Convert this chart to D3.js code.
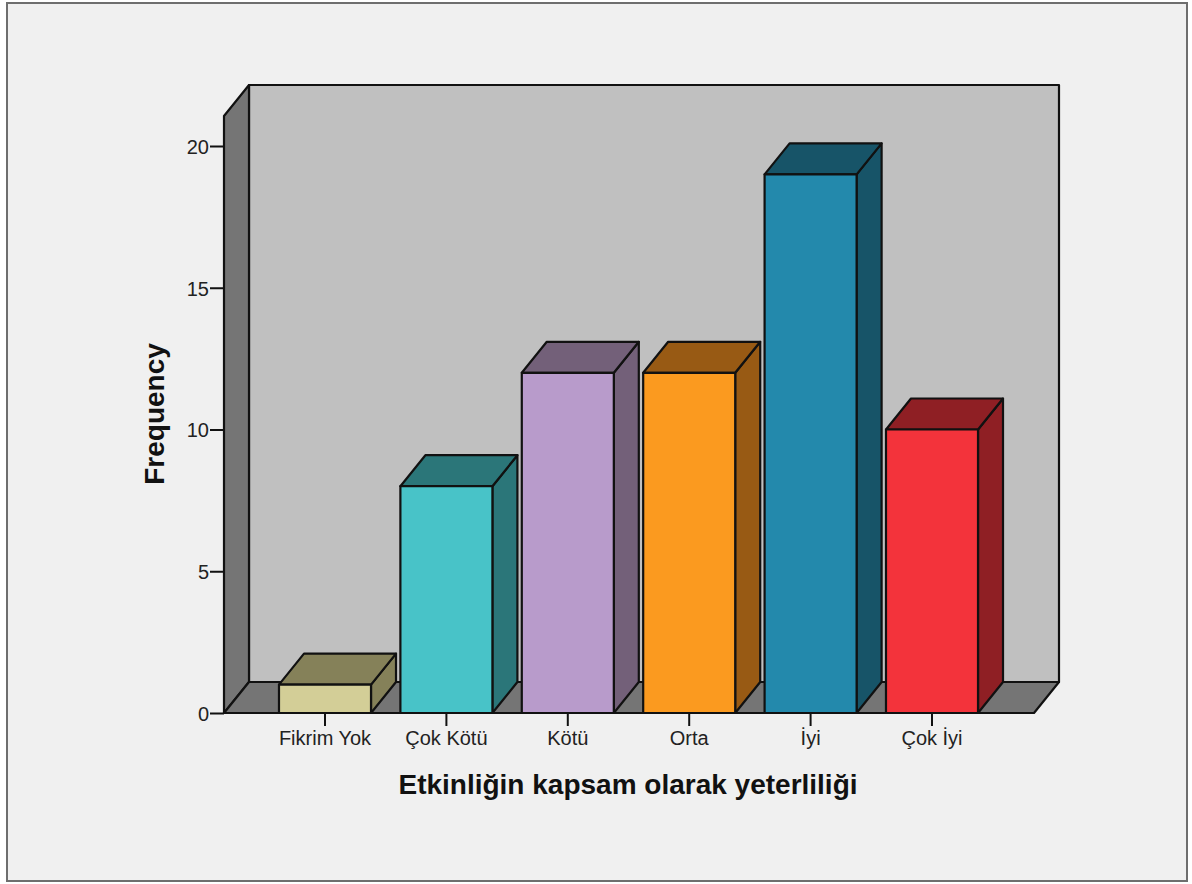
<!DOCTYPE html>
<html><head><meta charset="utf-8">
<script src="https://cdn.jsdelivr.net/npm/d3@7"></script>
<style>html,body{margin:0;padding:0;background:#fff}svg{display:block}text{font-family:"Liberation Sans",Arial,sans-serif}</style>
</head><body><script>
const categories = ["Fikrim Yok","Çok Kötü","Kötü","Orta","İyi","Çok İyi"];
const frequencies = [1,8,12,12,19,10];
const frontColors = ["#d3ce97","#48c3c8","#b89bcb","#fb9a1f","#2389ac","#f3333b"];
const sideColors = ["#858159","#2b7679","#736079","#985a14","#175468","#8f1f24"];
const topColors = ["#858159","#2b7679","#736079","#985a14","#175468","#8f1f24"];
const yTicks = [0,5,10,15,20];
const xTitle = "Etkinliğin kapsam olarak yeterliliği";
const yTitle = "Frequency";

const W=1192,H=884, dx=25, dy=-31;
const svg=d3.select("body").append("svg").attr("width",W).attr("height",H);
const y=d3.scaleLinear().domain([0,20]).range([713,146]);
const x=d3.scaleBand().domain(categories).range([264.3,992.7]).paddingInner(.242).paddingOuter(.121);
const wallL=224, wallR=1034, yTop=y(20)-30;
const line=d3.line();
function poly(pts,fill,sw){
  return svg.append("path").attr("d",line(pts)+"Z").attr("fill",fill)
    .attr("stroke","#111").attr("stroke-width",sw||2.2).attr("stroke-linejoin","round");
}
svg.append("rect").attr("x",7).attr("y",3).attr("width",1180).attr("height",878)
  .attr("fill","#f0f0f0").attr("stroke","#6e6e6e").attr("stroke-width",2);
poly([[wallL+dx,y(0)+dy],[wallR+dx,y(0)+dy],[wallR+dx,yTop+dy],[wallL+dx,yTop+dy]],"#c0c0c0");
poly([[wallL,y(0)],[wallL+dx,y(0)+dy],[wallL+dx,yTop+dy],[wallL,yTop]],"#757575");
poly([[wallL,y(0)],[wallR,y(0)],[wallR+dx,y(0)+dy],[wallL+dx,y(0)+dy]],"#757575");
categories.forEach((c,i)=>{
  const x0=x(c),x1=x0+x.bandwidth(),yt=y(frequencies[i]),yb=y(0);
  poly([[x1,yb],[x1+dx,yb+dy],[x1+dx,yt+dy],[x1,yt]],sideColors[i]);
  poly([[x0,yt],[x1,yt],[x1+dx,yt+dy],[x0+dx,yt+dy]],topColors[i]);
  poly([[x0,yb],[x1,yb],[x1,yt],[x0,yt]],frontColors[i]);
});
const gy=svg.append("g").attr("transform",`translate(${wallL},0)`)
  .call(d3.axisLeft(y).tickValues(yTicks).tickSize(14).tickPadding(1).tickFormat(d3.format("d")));
gy.select(".domain").remove();
gy.selectAll("line").attr("stroke","#111").attr("stroke-width",2);
gy.selectAll("text").attr("font-size",20).attr("fill","#222").attr("font-family",'"Liberation Sans"').attr("dy","0.37em");
const gx=svg.append("g").attr("transform",`translate(0,${y(0)})`)
  .call(d3.axisBottom(x).tickSize(13).tickPadding(3));
gx.select(".domain").remove();
gx.selectAll("line").attr("stroke","#111").attr("stroke-width",2);
gx.selectAll("text").attr("font-size",20).attr("fill","#222").attr("font-family",'"Liberation Sans"').attr("dy","0.8em");
svg.append("path").attr("d",line([[wallL,y(0)],[wallR,y(0)]])).attr("stroke","#111").attr("stroke-width",2.2);
svg.append("text").attr("x",628).attr("y",794).attr("text-anchor","middle")
  .attr("font-size",28).attr("font-weight","bold").attr("fill","#111").text(xTitle);
svg.append("text").attr("transform","translate(164,414) rotate(-90)").attr("text-anchor","middle")
  .attr("font-size",28).attr("font-weight","bold").attr("fill","#111").text(yTitle);
</script></body></html>
